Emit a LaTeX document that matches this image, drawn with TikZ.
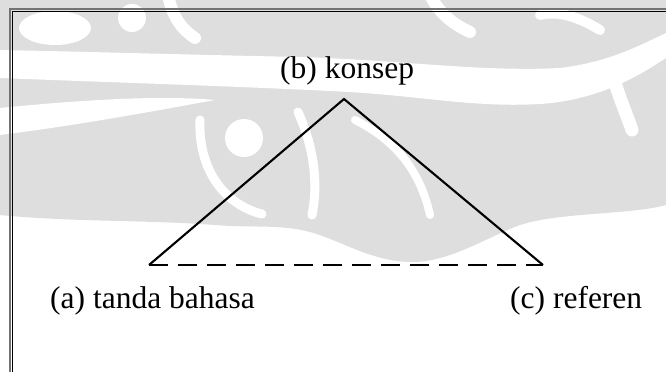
\documentclass[tikz,border=0pt]{standalone}
\usepackage{fontspec}
\setmainfont{Liberation Serif}
\begin{document}
\begin{tikzpicture}[x=1pt,y=-1pt,
  wm/.style={fill=black!13,draw=none},
  wh/.style={fill=white,draw=none},
  whs/.style={draw=white,line cap=round},
  lbl/.style={inner sep=0pt,anchor=base west,font=\fontsize{31.5}{38}\selectfont},
  side/.style={line width=2.1pt,line join=miter},
  base/.style={line width=2.1pt,dash pattern=on 19pt off 10pt}]
\useasboundingbox (0,0) rectangle (666,372);
\fill[white] (0,0) rectangle (666,372);
% watermark (approximate)
\fill[wm] (0,0) -- (666,0) -- (666,205)
  .. controls (630,215) and (560,212) .. (520,225)
  .. controls (485,238) and (450,262) .. (412,262)
  .. controls (372,262) and (340,240) .. (310,232)
  .. controls (280,224) and (250,228) .. (215,225)
  .. controls (150,220) and (70,222) .. (0,215) -- cycle;
\fill[wh] (0,50) .. controls (100,52) and (200,55) .. (300,57)
  .. controls (400,60) and (480,72) .. (560,68)
  .. controls (610,62) and (640,45) .. (666,33) -- (666,58)
  .. controls (640,75) and (600,100) .. (540,104)
  .. controls (470,108) and (420,95) .. (330,91)
  .. controls (230,86) and (100,82) .. (0,78) -- cycle;
\fill[wh] (0,108) .. controls (80,100) and (160,95) .. (215,100)
  .. controls (160,110) and (80,125) .. (0,135) -- cycle;
\fill[wh] (55,28) ellipse [x radius=36, y radius=17];
\fill[wh] (132,18) circle [radius=14];
\draw[whs,line width=12pt] (168,-5) .. controls (172,15) and (180,28) .. (195,38);
\draw[whs,line width=12pt] (430,-5) .. controls (440,15) and (455,25) .. (470,32);
\draw[whs,line width=10pt] (540,15) .. controls (560,10) and (580,18) .. (600,30);
\draw[whs,line width=13pt] (613,75) .. controls (618,95) and (625,110) .. (632,130);
\fill[wh] (244,138) circle [radius=19];
\draw[whs,line width=9pt] (200,120) .. controls (198,170) and (225,205) .. (262,214);
\draw[whs,line width=9pt] (298,112) .. controls (315,150) and (318,185) .. (312,215);
\draw[whs,line width=8pt] (355,120) .. controls (395,140) and (420,170) .. (430,215);
% frame
\draw[black!55,line width=1.2pt] (10,372) -- (10,9) -- (666,9);
\draw[black,line width=1pt] (12.5,372) -- (12.5,11.5) -- (666,11.5);
% diagram
\coordinate (A) at (149,265);
\coordinate (B) at (344,99);
\coordinate (C) at (543,265);
\node[lbl] (la) at (50,308) {(a) tanda bahasa};
\node[lbl] (lb) at (280,78) {(b) konsep};
\node[lbl] (lc) at (510,308) {(c) referen};
\draw[side] (A) -- (B) -- (C);
\draw[base] (A) -- (C);
\end{tikzpicture}
\end{document}
